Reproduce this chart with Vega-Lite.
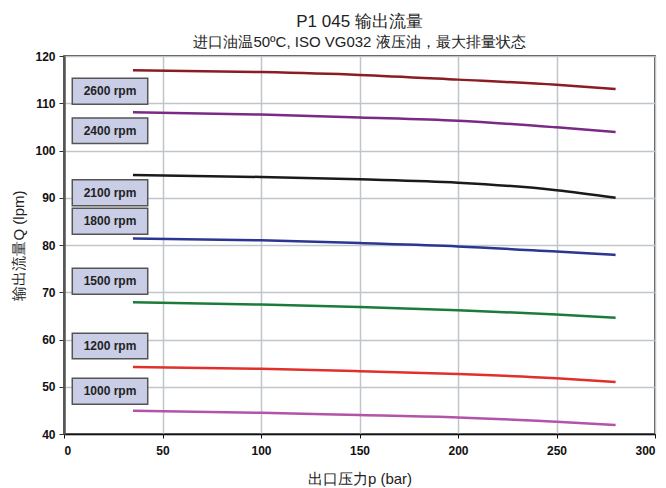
{
  "$schema": "https://vega.github.io/schema/vega-lite/v6.json",
  "autosize": {"type": "none"},
  "padding": {"left": 64, "top": 56, "right": 11, "bottom": 54},
  "width": 591,
  "height": 378,
  "background": "white",
  "config": {
    "view": {"stroke": "#111", "strokeWidth": 1.5},
    "font": "Liberation Sans"
  },
  "title": {
    "text": "P1 045 输出流量",
    "subtitle": "进口油温50ºC, ISO VG032 液压油，最大排量状态",
    "anchor": "middle",
    "fontSize": 17,
    "fontWeight": "normal",
    "color": "#222",
    "subtitleFontSize": 15,
    "subtitleColor": "#222",
    "subtitlePadding": 4,
    "offset": -1,
    "font": "Liberation Sans",
    "subtitleFont": "Liberation Sans"
  },
  "datasets": {
    "curves": [
      {"rpm": "2600", "p": 35, "q": 117.0},
      {"rpm": "2600", "p": 100, "q": 116.6},
      {"rpm": "2600", "p": 150, "q": 116.0},
      {"rpm": "2600", "p": 200, "q": 115.0},
      {"rpm": "2600", "p": 250, "q": 113.9},
      {"rpm": "2600", "p": 280, "q": 113.0},
      {"rpm": "2400", "p": 35, "q": 108.1},
      {"rpm": "2400", "p": 100, "q": 107.6},
      {"rpm": "2400", "p": 150, "q": 107.0},
      {"rpm": "2400", "p": 200, "q": 106.3},
      {"rpm": "2400", "p": 250, "q": 104.9},
      {"rpm": "2400", "p": 280, "q": 103.9},
      {"rpm": "2100", "p": 35, "q": 94.8},
      {"rpm": "2100", "p": 100, "q": 94.4},
      {"rpm": "2100", "p": 150, "q": 93.9},
      {"rpm": "2100", "p": 200, "q": 93.2},
      {"rpm": "2100", "p": 250, "q": 91.6},
      {"rpm": "2100", "p": 280, "q": 90.0},
      {"rpm": "1800", "p": 35, "q": 81.4},
      {"rpm": "1800", "p": 100, "q": 81.0},
      {"rpm": "1800", "p": 150, "q": 80.4},
      {"rpm": "1800", "p": 200, "q": 79.7},
      {"rpm": "1800", "p": 250, "q": 78.6},
      {"rpm": "1800", "p": 280, "q": 77.9},
      {"rpm": "1500", "p": 35, "q": 67.9},
      {"rpm": "1500", "p": 100, "q": 67.4},
      {"rpm": "1500", "p": 150, "q": 66.9},
      {"rpm": "1500", "p": 200, "q": 66.2},
      {"rpm": "1500", "p": 250, "q": 65.3},
      {"rpm": "1500", "p": 280, "q": 64.6},
      {"rpm": "1200", "p": 35, "q": 54.2},
      {"rpm": "1200", "p": 100, "q": 53.8},
      {"rpm": "1200", "p": 150, "q": 53.3},
      {"rpm": "1200", "p": 200, "q": 52.7},
      {"rpm": "1200", "p": 250, "q": 51.8},
      {"rpm": "1200", "p": 280, "q": 51.0},
      {"rpm": "1000", "p": 35, "q": 44.9},
      {"rpm": "1000", "p": 100, "q": 44.5},
      {"rpm": "1000", "p": 150, "q": 44.0},
      {"rpm": "1000", "p": 200, "q": 43.5},
      {"rpm": "1000", "p": 250, "q": 42.6},
      {"rpm": "1000", "p": 280, "q": 41.9}
    ],
    "labels": [
      {"label": "2600 rpm", "x1": 4.2, "x2": 42.5, "y1": 115.3, "y2": 109.8},
      {"label": "2400 rpm", "x1": 4.2, "x2": 42.5, "y1": 106.9, "y2": 101.5},
      {"label": "2100 rpm", "x1": 4.2, "x2": 42.5, "y1": 93.8, "y2": 88.3},
      {"label": "1800 rpm", "x1": 4.2, "x2": 42.5, "y1": 87.8, "y2": 82.3},
      {"label": "1500 rpm", "x1": 4.2, "x2": 42.5, "y1": 75.1, "y2": 69.6},
      {"label": "1200 rpm", "x1": 4.2, "x2": 42.5, "y1": 61.3, "y2": 55.9},
      {"label": "1000 rpm", "x1": 4.2, "x2": 42.5, "y1": 51.8, "y2": 46.3}
    ]
  },
  "layer": [
    {
      "data": {"name": "curves"},
      "mark": {"type": "line", "strokeWidth": 2.5, "interpolate": "monotone"},
      "encoding": {
        "x": {
          "field": "p", "type": "quantitative",
          "scale": {"domain": [0, 300], "nice": false},
          "axis": {
            "title": "出口压力p (bar)",
            "titleFontSize": 15, "titleFontWeight": "normal", "titleColor": "#222",
            "titlePadding": 15,
            "values": [0, 50, 100, 150, 200, 250, 300],
            "labelFontSize": 12, "labelFontWeight": "bold", "labelColor": "#111",
            "labelPadding": 7, "tickSize": 4, "tickColor": "#111",
            "domainColor": "#111", "domainWidth": 1.5,
            "grid": true, "gridColor": "#c0c5ca", "gridWidth": 1.5
          }
        },
        "y": {
          "field": "q", "type": "quantitative",
          "scale": {"domain": [40, 120], "nice": false, "zero": false},
          "axis": {
            "title": "输出流量Q (lpm)",
            "titleFontSize": 15, "titleFontWeight": "normal", "titleColor": "#222",
            "titlePadding": 8,
            "values": [40, 50, 60, 70, 80, 90, 100, 110, 120],
            "labelFontSize": 12, "labelFontWeight": "bold", "labelColor": "#111",
            "labelPadding": 4, "tickSize": 5, "tickColor": "#333",
            "domainColor": "#555", "domainWidth": 2.5,
            "grid": true, "gridColor": "#c0c5ca", "gridWidth": 1.5
          }
        },
        "color": {
          "field": "rpm", "type": "nominal",
          "scale": {
            "domain": ["2600", "2400", "2100", "1800", "1500", "1200", "1000"],
            "range": ["#8a1c22", "#7a2a84", "#1a1a1a", "#2b3592", "#1b7b3a", "#e0302c", "#b353a9"]
          },
          "legend": null
        },
        "detail": {"field": "rpm"}
      }
    },
    {
      "data": {"name": "labels"},
      "mark": {"type": "rect", "fill": "#c9cde6", "stroke": "#555", "strokeWidth": 1.5},
      "encoding": {
        "x": {"field": "x1", "type": "quantitative"},
        "x2": {"field": "x2"},
        "y": {"field": "y1", "type": "quantitative"},
        "y2": {"field": "y2"}
      }
    },
    {
      "data": {"name": "labels"},
      "transform": [
        {"calculate": "(datum.x1 + datum.x2) / 2", "as": "xc"},
        {"calculate": "(datum.y1 + datum.y2) / 2", "as": "yc"}
      ],
      "mark": {"type": "text", "fontSize": 12, "fontWeight": "bold", "color": "#222", "baseline": "middle", "align": "center"},
      "encoding": {
        "x": {"field": "xc", "type": "quantitative"},
        "y": {"field": "yc", "type": "quantitative"},
        "text": {"field": "label"}
      }
    }
  ]
}
